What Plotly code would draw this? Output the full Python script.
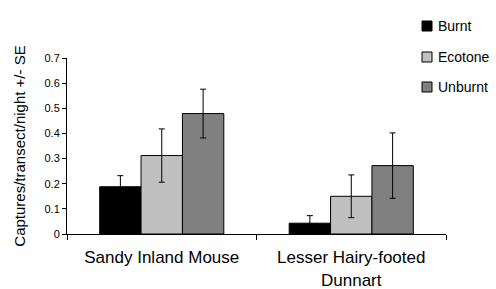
import plotly.graph_objects as go

species = ["Sandy Inland Mouse", "Lesser Hairy-footed<br>Dunnart"]
habitats = ["Burnt", "Ecotone", "Unburnt"]
burnt = [0.188, 0.043]
ecotone = [0.312, 0.150]
unburnt = [0.479, 0.272]
burnt_se = [0.044, 0.030]
ecotone_se = [0.106, 0.085]
unburnt_se = [0.097, 0.130]
colors = ["#000000", "#C0C0C0", "#808080"]
y_ticks = [0, 0.1, 0.2, 0.3, 0.4, 0.5, 0.6, 0.7]

FONT = "Arial, 'Liberation Sans', sans-serif"

W, H = 496, 289
ML, MR, MT, MB = 67, 50, 58, 55
PW, PH = W - ML - MR, H - MT - MB

def px_x(x):
    return (x - ML) / PW

def px_y(y):
    return (H - MB - y) / PH

fig = go.Figure()
for i, (name, vals, se) in enumerate(zip(habitats, [burnt, ecotone, unburnt],
                                          [burnt_se, ecotone_se, unburnt_se])):
    fig.add_trace(go.Bar(
        name=name, x=species, y=vals,
        marker=dict(color=colors[i], line=dict(color="#000000", width=1)),
        error_y=dict(type="data", array=se, visible=True, color="#000000",
                     thickness=1, width=3),
        showlegend=False,
    ))

# manual legend
legend_y = [26, 57, 87]
for i, name in enumerate(habitats):
    yc = legend_y[i]
    fig.add_shape(type="rect", xref="paper", yref="paper",
                  x0=px_x(422), x1=px_x(432), y0=px_y(yc + 5), y1=px_y(yc - 5),
                  fillcolor=colors[i], line=dict(color="#000000", width=1))
    fig.add_annotation(xref="paper", yref="paper", x=px_x(436), y=px_y(yc),
                       text=name, showarrow=False, xanchor="left",
                       yanchor="middle", font=dict(size=14))

fig.update_layout(
    width=W, height=H,
    margin=dict(l=ML, r=MR, t=MT, b=MB),
    paper_bgcolor="white", plot_bgcolor="white",
    barmode="group", bargap=0.345, bargroupgap=0,
    font=dict(family=FONT, color="#000000"),
    showlegend=False,
    xaxis=dict(showline=True, linecolor="#000000", linewidth=1,
               ticks="outside", tickson="boundaries", ticklen=5,
               tickcolor="#000000", tickfont=dict(size=17),
               ticklabelstandoff=8,
               showgrid=False, zeroline=False, automargin=False),
    yaxis=dict(range=[0, 0.7], tickvals=y_ticks,
               ticktext=[f"{v:g}" for v in y_ticks],
               showline=True, linecolor="#000000", linewidth=1,
               ticks="outside", ticklen=4, tickcolor="#000000",
               tickfont=dict(size=11), showgrid=False, zeroline=False,
               automargin=False,
               title=dict(text="Captures/transect/night +/- SE",
                          font=dict(size=15), standoff=15)),
)

fig.write_html("out.html", config={"displayModeBar": False},
               post_script="document.body.style.margin='0';document.body.style.overflow='hidden';")
